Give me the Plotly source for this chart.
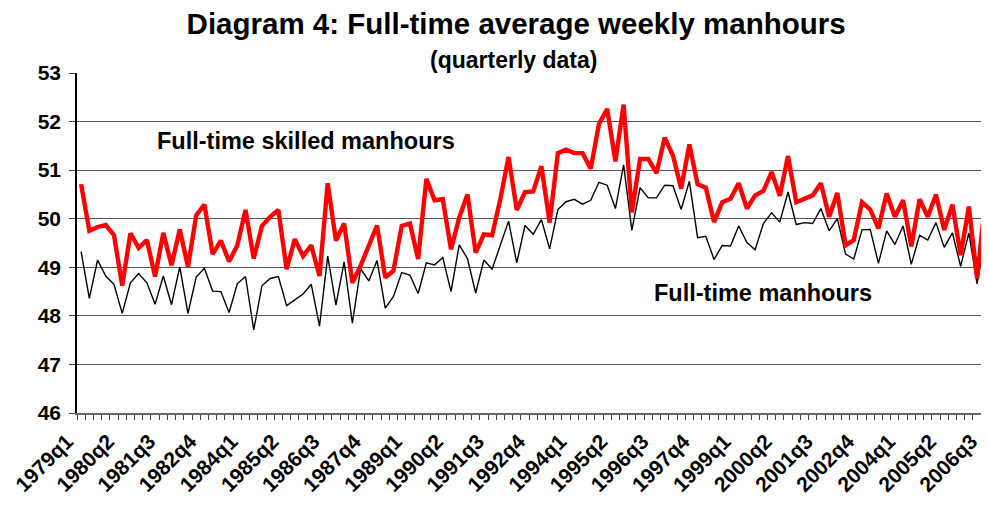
import plotly.graph_objects as go

# quarters 1979q1 .. 2006q4
quarters = [f"{y}q{q}" for y in range(1979, 2007) for q in range(1, 5)]

# full-time skilled manhours (red)
skilled = [50.71, 49.75, 49.83, 49.87, 49.66, 48.62, 49.70, 49.40, 49.56, 48.81,
           49.71, 49.04, 49.78, 49.01, 50.07, 50.29, 49.27, 49.55, 49.12, 49.45,
           50.18, 49.18, 49.85, 50.04, 50.18, 48.96, 49.58, 49.23, 49.45, 48.82,
           50.73, 49.55, 49.90, 48.68, 49.03, 49.42, 49.86, 48.79, 48.93, 49.85,
           49.90, 49.17, 50.82, 50.38, 50.40, 49.37, 50.02, 50.50, 49.30, 49.68,
           49.66, 50.40, 51.27, 50.18, 50.55, 50.56, 51.08, 49.92, 51.35, 51.42,
           51.35, 51.35, 51.03, 51.95, 52.26, 51.18, 52.35, 50.13, 51.23, 51.23,
           50.94, 51.67, 51.30, 50.62, 51.53, 50.71, 50.64, 49.93, 50.34, 50.41,
           50.73, 50.21, 50.48, 50.57, 50.96, 50.47, 51.29, 50.34, 50.40, 50.48,
           50.73, 50.04, 50.53, 49.45, 49.56, 50.34, 50.19, 49.80, 50.52, 50.04,
           50.38, 49.43, 50.40, 50.04, 50.50, 49.77, 50.29, 49.25, 50.25, 48.77,
           50.38, 49.10]

# full-time manhours (black)
fulltime = [49.32, 48.36, 49.15, 48.82, 48.65, 48.05, 48.68, 48.87, 48.68, 48.24,
            48.82, 48.23, 49.01, 48.05, 48.80, 48.98, 48.51, 48.50, 48.07, 48.66,
            48.81, 47.71, 48.62, 48.77, 48.81, 48.21, 48.33, 48.45, 48.65, 47.79,
            49.23, 48.22, 49.11, 47.85, 48.97, 48.72, 49.14, 48.16, 48.40, 48.89,
            48.84, 48.46, 49.09, 49.05, 49.20, 48.50, 49.46, 49.18, 48.47, 49.15,
            48.96, 49.45, 49.95, 49.09, 49.86, 49.68, 49.98, 49.38, 50.19, 50.35,
            50.40, 50.30, 50.38, 50.75, 50.69, 50.21, 51.11, 49.76, 50.64, 50.43,
            50.43, 50.69, 50.68, 50.19, 50.77, 49.61, 49.64, 49.16, 49.45, 49.44,
            49.85, 49.51, 49.36, 49.90, 50.12, 49.93, 50.55, 49.88, 49.92, 49.90,
            50.21, 49.75, 50.00, 49.27, 49.17, 49.77, 49.78, 49.08, 49.75, 49.47,
            49.85, 49.06, 49.66, 49.56, 49.92, 49.41, 49.71, 49.02, 49.71, 48.66,
            49.68, 49.30]

tick_labels = ["1979q1", "1980q2", "1981q3", "1982q4", "1984q1", "1985q2", "1986q3",
               "1987q4", "1989q1", "1990q2", "1991q3", "1992q4", "1994q1", "1995q2",
               "1996q3", "1997q4", "1999q1", "2000q2", "2001q3", "2002q4", "2004q1",
               "2005q2", "2006q3"]

font = "Arial, Liberation Sans, sans-serif"

fig = go.Figure()
fig.add_trace(go.Scatter(x=quarters, y=fulltime, mode="lines",
                         line=dict(color="black", width=1.4)))
fig.add_trace(go.Scatter(x=quarters, y=skilled, mode="lines",
                         line=dict(color="#ff0000", width=4.4)))

ticktext = [q if q in tick_labels else "" for q in quarters]

# page body has an 8px margin, so the figure is 8px smaller than the window
fig.update_layout(
    width=981, height=506,
    margin=dict(l=69, r=0, t=65, b=101),
    paper_bgcolor="white", plot_bgcolor="white",
    showlegend=False,
    font=dict(family=font, color="black"),
    title=dict(text="<b>Diagram 4: Full-time average weekly manhours</b>",
               x=0.518, xanchor="center", y=0.969, yanchor="middle",
               font=dict(size=29.5, family=font, color="black")),
    annotations=[
        dict(text="<b>(quarterly data)</b>", xref="paper", yref="paper",
             x=0.479, y=1.038, xanchor="center", yanchor="middle",
             showarrow=False, font=dict(size=23)),
        dict(text="<b>Full-time skilled manhours</b>", xref="x", yref="y",
             x=9.0, y=51.60, xanchor="left", yanchor="middle",
             showarrow=False, font=dict(size=23.5)),
        dict(text="<b>Full-time manhours</b>", xref="x", yref="y",
             x=69.5, y=48.47, xanchor="left", yanchor="middle",
             showarrow=False, font=dict(size=23.5)),
    ],
)

fig.update_xaxes(
    type="category", range=[-0.5, 110.45],
    tickmode="array", tickvals=quarters, ticktext=ticktext,
    tickson="boundaries", ticks="outside", ticklen=5, tickcolor="#444",
    tickangle=-45, ticklabelshift=-14, ticklabelstandoff=6,
    tickfont=dict(size=21, family=font, weight="bold"),
    showline=True, linecolor="#666", linewidth=1.5,
    showgrid=False, zeroline=False,
)
fig.update_yaxes(
    range=[46, 53], dtick=1,
    ticks="outside", ticklen=6, tickcolor="#444", ticklabelstandoff=4,
    tickfont=dict(size=21, family=font, weight="bold"),
    showline=True, linecolor="black", linewidth=1.5,
    showgrid=True, gridcolor="#555", gridwidth=1, zeroline=False,
)

fig.write_html("out.html")
